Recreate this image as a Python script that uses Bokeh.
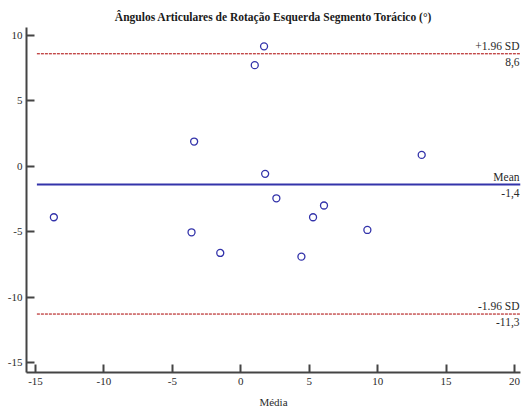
from bokeh.plotting import figure
from bokeh.models import ColumnDataSource, Label, FixedTicker, Range1d
from bokeh.embed import file_html
from bokeh.resources import INLINE

mean_vals = [-13.66, 1.70, 1.02, -3.41, 1.78, 2.60, 6.08, 5.28, -3.60, -1.50, 4.43, 13.22, 9.25]
diff_vals = [-3.90, 9.17, 7.73, 1.89, -0.58, -2.45, -3.00, -3.90, -5.05, -6.63, -6.91, 0.87, -4.87]
mean_diff = -1.4
upper_loa = 8.6
lower_loa = -11.3
x_ticks = [-15, -10, -5, 0, 5, 10, 15, 20]
y_ticks = [-15, -10, -5, 0, 5, 10]
title_text = "Ângulos Articulares de Rotação Esquerda Segmento Torácico (°)"
x_label = "Média"

FONT = "Liberation Serif"
GREY = "#2a2a2a"
BLUE = "#3333aa"
RED = "#aa0000"
FS = "11.5px"

p = figure(width=529, height=414, output_backend="svg", toolbar_location=None,
           x_range=Range1d(-15.66, 20.44), y_range=Range1d(-15.77, 10.61),
           min_border_left=26, min_border_right=9, min_border_top=27, min_border_bottom=42,
           title=title_text)
p.outline_line_color = None
p.grid.visible = False
p.background_fill_color = "white"
p.border_fill_color = "white"

p.title.align = "center"
p.title.text_font = FONT
p.title.text_font_size = FS
p.title.text_font_style = "bold"
p.title.text_color = "#1a1a1a"
p.title.offset = 4

for ax in (p.xaxis[0], p.yaxis[0]):
    ax.axis_line_color = "#444444"
    ax.axis_line_width = 2
    ax.major_tick_line_color = "#444444"
    ax.major_tick_line_width = 2
    ax.major_tick_in = 8
    ax.major_tick_out = 0
    ax.minor_tick_line_color = None
    ax.major_label_text_font = FONT
    ax.major_label_text_font_size = "11px"
    ax.major_label_text_color = GREY
    ax.axis_label_text_font = FONT
    ax.axis_label_text_font_size = "11px"
    ax.axis_label_text_font_style = "normal"
    ax.axis_label_text_color = GREY

p.xaxis[0].ticker = FixedTicker(ticks=x_ticks)
p.yaxis[0].ticker = FixedTicker(ticks=y_ticks)
p.xaxis[0].major_label_overrides = {t: str(t) for t in x_ticks}
p.yaxis[0].major_label_overrides = {t: str(t) for t in y_ticks}
p.xaxis[0].major_label_standoff = 5
p.yaxis[0].major_label_standoff = 4
p.xaxis[0].axis_label = x_label
p.xaxis[0].axis_label_standoff = 8

x0, x1 = -14.9, 20.44
p.line([x0, x1], [mean_diff, mean_diff], line_color=BLUE, line_width=2)
p.line([x0, x1], [upper_loa, upper_loa], line_color=RED, line_width=1, line_dash="3 1")
p.line([x0, x1], [lower_loa, lower_loa], line_color=RED, line_width=1, line_dash="3 1")

src = ColumnDataSource(dict(x=mean_vals, y=diff_vals))
p.scatter("x", "y", source=src, size=7, fill_color=None, line_color=BLUE, line_width=1.3)

def fmt(v):
    return ("%.1f" % v).replace(".", ",")

for val, name in [(upper_loa, "+1.96 SD"), (mean_diff, "Mean"), (lower_loa, "-1.96 SD")]:
    p.add_layout(Label(x=20.37, y=val, y_offset=2, text=name, text_align="right",
                       text_baseline="bottom", text_font=FONT, text_font_size=FS,
                       text_color=GREY))
    p.add_layout(Label(x=20.37, y=val, y_offset=-4, text=fmt(val), text_align="right",
                       text_baseline="top", text_font=FONT, text_font_size=FS,
                       text_color=GREY))

open("out.html", "w").write(file_html(p, INLINE))
